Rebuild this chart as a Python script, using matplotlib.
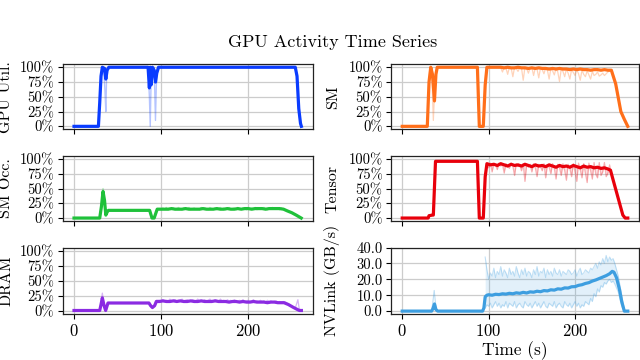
import numpy as np
import matplotlib
matplotlib.use("Agg")
import matplotlib.pyplot as plt
from matplotlib.ticker import FuncFormatter

plt.rcParams['font.family'] = 'serif'
plt.rcParams['font.serif'] = ['cmr10']
plt.rcParams['mathtext.fontset'] = 'cm'
plt.rcParams['axes.formatter.use_mathtext'] = True
plt.rcParams['axes.unicode_minus'] = False

# ---------------- data ----------------
title = "GPU Activity Time Series"
x_ticks = [0, 100, 200]
pct_ticks = [0, 25, 50, 75, 100]
nv_ticks = [0, 10, 20, 30, 40]

# GPU Util
gpu_t = [0, 28, 29.5, 31, 32.5, 35, 36.5, 38, 40, 85, 86.5, 87.5, 88.5, 90, 92, 93.5, 95, 97, 254, 256, 258, 260, 261]
gpu_v = [0, 0, 40, 85, 100, 98, 80, 95, 100, 100, 65, 100, 70, 100, 95, 75, 90, 100, 100, 85, 30, 5, 0]
gpu_raw_t = [0, 28, 30, 32, 34, 35.5, 36.5, 37.5, 39, 41, 85, 86.5, 87.5, 88.5, 90, 92, 93.5, 94.5, 96, 98, 254, 256, 258, 260, 261]
gpu_raw_v = [0, 0, 50, 100, 100, 60, 25, 90, 100, 100, 100, 50, 0, 80, 100, 100, 10, 70, 100, 100, 100, 80, 25, 3, 0]

# SM
sm_head_t = [0, 29, 31, 33, 35, 37.3, 39, 40.5, 87, 89.2, 93.8, 96]
sm_head_v = [0, 0, 75, 100, 88, 43, 88, 100, 100, 0, 0, 70]
sm_mid_v = [100, 100, 100, 100, 100, 99, 100, 99, 99, 100, 99, 99, 98, 99, 98, 99, 98, 98,
            97, 98, 97, 98, 97, 97, 96, 97, 96, 97, 96, 96, 95, 96, 96, 95, 96, 95]
sm_tail_t = [242, 247, 253, 257, 261]
sm_tail_v = [95, 72, 25, 12, 0]
sm_raw_head_t = [0, 29, 30.5, 32, 34, 36, 37.5, 39, 41, 87, 88.5, 89.5, 93.5, 95, 97]
sm_raw_head_v = [0, 0, 60, 100, 100, 10, 60, 95, 100, 100, 30, 0, 0, 50, 100]
sm_raw_mid_v = [100, 100, 100, 99, 100, 100, 100, 100, 99,
                92, 100, 99, 88, 100, 99, 84, 100, 98, 93, 100, 99, 78, 100, 98, 90, 99, 100, 86,
                99, 97, 82, 99, 96, 89, 99, 95, 80, 98, 94, 87, 98, 92, 76, 97, 93, 84, 97, 90,
                80, 96, 91, 86, 96, 89, 78, 95, 88, 84, 94, 87, 80, 93, 86, 88, 92, 85, 87, 90,
                86, 89, 92, 94]
sm_raw_tail_t = [243, 247, 253, 257, 261]
sm_raw_tail_v = [94, 70, 22, 10, 0]

# SM Occupancy
occ_head_t = [0, 29.5, 31.5, 33.3, 35, 36.5, 38, 39.5, 86.8, 89.5, 92, 95.5]
occ_head_v = [0, 0, 20, 45, 30, 5, 10, 13, 13, 0, 0, 15]
occ_mid_v = [15, 15, 15, 16, 15, 15, 15, 16, 15, 15, 15, 15, 16, 15, 15, 15, 16, 15,
             15, 16, 15, 15, 16, 15, 16, 16, 15, 16, 16, 16, 15, 16, 16, 16, 16]
occ_tail_t = [240.5, 245, 250, 255, 260.8]
occ_tail_v = [15, 12, 9, 5, 0]
occ_raw_head_t = [0, 29.5, 31.5, 33.3, 35, 36.5, 38, 39.5, 86.8, 89.5, 92, 95.5]
occ_raw_head_v = [0, 0, 25, 50, 32, 4, 12, 14, 13, 0, 0, 16]
occ_raw_mid_v = [16, 14, 17, 15, 18, 14, 16, 15, 17, 14,
                 16, 18, 15, 14, 17, 16, 15, 18, 14, 16,
                 17, 15, 16, 14, 18, 15, 17, 16, 14, 18,
                 16, 15, 17, 14, 16, 18, 15, 17, 14, 16,
                 18, 15, 16, 17, 14, 18, 16, 15, 17, 16,
                 14, 18, 15, 17, 16, 18, 14, 16, 17, 15,
                 18, 16, 14, 17, 16, 18, 15, 17, 16, 14,
                 17, 15]
occ_raw_tail_t = [243, 247, 252, 256, 260.8]
occ_raw_tail_v = [14, 11, 8, 4, 0]

# Tensor
ten_head_t = [0, 30, 31, 35, 36, 38.5, 87, 89.2, 93.8, 96]
ten_head_v = [0, 0, 4, 5, 5, 96, 96, 0, 0, 70]
ten_mid_v = [92, 90, 91, 89, 92, 90, 88, 91, 89, 90, 88, 91, 89, 87, 90, 88, 89, 87,
             90, 88, 86, 89, 87, 88, 86, 89, 87, 85, 88, 86, 87, 85, 86, 84, 85, 83]
ten_tail_t = [241, 243.4, 255.3, 258, 261]
ten_tail_v = [81, 68, 5, 0, 0]
ten_raw_mid_v = [92, 85, 93, 78, 92, 90, 82, 93, 88, 91, 76, 92, 89, 84, 93, 88, 72, 92,
                 87, 90, 80, 92, 62, 90, 86, 91, 78, 92, 85, 70, 91, 87, 80, 92, 68, 90,
                 86, 75, 92, 84, 66, 91, 85, 72, 92, 80, 64, 91, 84, 70, 92, 78, 62, 93,
                 82, 68, 92, 76, 60, 93, 80, 66, 94, 74, 68, 94, 72, 78, 94, 70, 76, 90]

# DRAM
dram_head_t = [0, 29.5, 31, 32.5, 34.5, 36.3, 38, 39, 86, 88, 90, 92.5, 94.5]
dram_head_v = [0, 0, 10, 21, 8, 0, 8, 12.5, 12.5, 8, 5, 8, 15]
dram_mid_v = [15, 16, 15, 15, 16, 15, 16, 15, 15, 16, 15, 15, 16, 15, 15, 15, 16, 15,
              15, 15, 14, 15, 15, 14, 15, 14, 14, 15, 14, 14, 14, 13, 14, 14, 13, 13]
dram_tail_t = [241, 246, 252, 256, 258.8, 261]
dram_tail_v = [13, 10, 5, 2, 0, 0]
dram_raw_head_t = [0, 29.5, 31, 32.5, 34.5, 36.3, 38, 39, 86, 88, 90, 92.5, 94.5]
dram_raw_head_v = [0, 0, 14, 29, 10, 0, 9, 13, 13, 7, 3, 9, 17]
dram_raw_mid_v = [17, 15, 18, 16, 17, 15, 19, 16, 17, 18,
                  15, 17, 16, 19, 15, 17, 18, 16, 15, 18,
                  17, 16, 19, 15, 17, 16, 18, 15, 17, 19,
                  16, 15, 18, 17, 15, 19, 16, 17, 15, 18,
                  16, 17, 15, 18, 16, 15, 17, 16, 18, 15,
                  16, 17, 15, 16, 18, 15, 16, 15, 17, 15,
                  16, 14, 17, 15, 16, 14, 15, 16, 14, 15,
                  14, 15]
dram_raw_tail_t = [243, 248, 254, 257, 258.5, 261]
dram_raw_tail_v = [14, 9, 4, 18, 3, 0]

# NVLink (GB/s)
nv_head_t = [0, 34, 35.5, 37.3, 39, 41, 93, 94.5, 96, 98]
nv_head_v = [0, 0, 1.5, 4.5, 1, 0, 0, 2, 9, 10]
nv_mid_v = [10.3, 10.0, 10.6, 10.4, 10.9, 10.7, 11.2, 10.9, 11.5, 11.2, 11.8, 11.4,
            12.1, 11.9, 12.5, 12.2, 12.9, 12.7, 13.4, 13.2, 14.0, 13.8, 14.6, 14.5,
            15.3, 15.4, 16.2, 16.6, 17.4, 17.9, 18.9, 19.6, 20.5, 21.4, 22.3]
nv_tail_t = [240, 243, 245, 248, 251.4, 254, 257, 261]
nv_tail_v = [23.5, 25.0, 24.5, 21, 13.6, 6, 0, 0]
nv_spike_t = [34, 35.5, 37, 38.5, 40]
nv_spike_v = [0, 6, 13, 5, 0]
nv_up_v = [34, 26, 20, 24, 22, 27, 21, 25, 23, 28,
           22, 26, 24, 21, 27, 23, 25, 22, 28, 24,
           21, 26, 23, 27, 22, 25, 24, 21, 26, 23,
           28, 22, 25, 24, 27, 21, 26, 23, 25, 22,
           27, 24, 23, 26, 22, 25, 24, 23, 26, 25,
           23, 24, 26, 22, 25, 27, 23, 24, 26, 25,
           24, 27, 26, 28, 30, 27, 31, 29, 33, 30,
           35, 31, 34, 32, 33, 30]
nv_lo_v = [2, 4, 3, 5, 2, 4, 6, 3, 5, 2,
           4, 3, 6, 2, 5, 4, 3, 6, 2, 4,
           5, 3, 2, 6, 4, 3, 5, 2, 4, 6,
           3, 5, 2, 4, 6, 3, 2, 5, 4, 3,
           6, 2, 4, 5, 3, 2, 6, 4, 3, 5,
           2, 4, 6, 3, 5, 2, 4, 3, 6, 5,
           4, 8, 6, 11, 9, 14, 12, 16, 15, 18,
           17, 19, 20, 18, 19, 17]
nv_band_tail_t = [250, 254, 257]
nv_band_up_tail = [22, 10, 1]
nv_band_lo_tail = [12, 3, 0]

# ---------------- assemble ----------------
grid4_a = np.arange(98, 240, 4)     # 98..238
grid4_b = np.arange(100, 240, 4)    # 100..236
grid2 = np.arange(98, 242, 2)       # 98..240
grid2_nv = np.arange(96, 248, 2)    # 96..246

def cat(*parts):
    return np.concatenate([np.asarray(p, dtype=float) for p in parts])

sm_t = cat(sm_head_t, grid4_a, sm_tail_t); sm_v = cat(sm_head_v, sm_mid_v, sm_tail_v)
sm_rt = cat(sm_raw_head_t, grid2, sm_raw_tail_t); sm_rv = cat(sm_raw_head_v, sm_raw_mid_v, sm_raw_tail_v)
occ_t = cat(occ_head_t, grid4_b, occ_tail_t); occ_v = cat(occ_head_v, occ_mid_v, occ_tail_v)
occ_rt = cat(occ_raw_head_t, grid2, occ_raw_tail_t); occ_rv = cat(occ_raw_head_v, occ_raw_mid_v, occ_raw_tail_v)
ten_t = cat(ten_head_t, grid4_a, ten_tail_t); ten_v = cat(ten_head_v, ten_mid_v, ten_tail_v)
ten_rt = cat(ten_head_t, grid2, ten_tail_t); ten_rv = cat(ten_head_v, ten_raw_mid_v, ten_tail_v)
dram_t = cat(dram_head_t, grid4_a, dram_tail_t); dram_v = cat(dram_head_v, dram_mid_v, dram_tail_v)
dram_rt = cat(dram_raw_head_t, grid2, dram_raw_tail_t); dram_rv = cat(dram_raw_head_v, dram_raw_mid_v, dram_raw_tail_v)
nv_t = cat(nv_head_t, grid4_b, nv_tail_t); nv_v = cat(nv_head_v, nv_mid_v, nv_tail_v)
nv_bt = cat(grid2_nv, nv_band_tail_t)
nv_bu = cat(nv_up_v, nv_band_up_tail)
nv_bl = cat(nv_lo_v, nv_band_lo_tail)

C_GPU = '#0a3cff'
C_SM = '#ff6f1a'
C_OCC = '#1fc13a'
C_TEN = '#e8000b'
C_DRAM = '#8b2be2'
C_NV = '#3d9ee0'

# ---------------- figure ----------------
fig = plt.figure(figsize=(6.4, 3.6), dpi=100)
W = 640.0; H = 360.0
def box(x0, x1, y0, y1):
    return [x0 / W, 1 - y1 / H, (x1 - x0) / W, (y1 - y0) / H]

rows = [(64.3, 129.3), (156, 221), (247.5, 313.5)]
cols = [(62.7, 312.7), (391, 639)]
axes = [[fig.add_axes(box(c[0], c[1], r[0], r[1])) for c in cols] for r in rows]

pct_fmt = FuncFormatter(lambda v, p: f"{v:.0f}%")
nv_fmt = FuncFormatter(lambda v, p: f"{v:.1f}")

def style(ax, ylabel, pct=True, xlabels=False, col=0):
    ax.set_xlim(-13, 274)
    ax.set_xticks(x_ticks)
    if pct:
        ax.set_ylim(-5, 105)
        ax.set_yticks(pct_ticks)
        ax.yaxis.set_major_formatter(pct_fmt)
    else:
        ax.set_ylim(-1.5, 40)
        ax.set_yticks(nv_ticks)
        ax.yaxis.set_major_formatter(nv_fmt)
    ax.grid(True, color='#cccccc', lw=0.9)
    ax.set_axisbelow(True)
    for s in ax.spines.values():
        s.set_color('#222222'); s.set_linewidth(0.9)
    ax.tick_params(axis='y', labelsize=10.5, length=3.5, width=0.8, pad=2.5)
    ax.tick_params(axis='x', labelsize=12, length=3.5, width=0.8, pad=3)
    if not xlabels:
        ax.tick_params(axis='x', labelbottom=False)
    ax.set_ylabel(ylabel, fontsize=11.5)
    ax.yaxis.set_label_coords(-0.197 if col == 0 else -0.207, 0.5)

# GPU Util
ax = axes[0][0]
ax.plot(gpu_raw_t, gpu_raw_v, color=C_GPU, lw=1.0, alpha=0.3)
ax.plot(gpu_t, gpu_v, color=C_GPU, lw=2.3)
style(ax, 'GPU Util.', col=0)

# SM
ax = axes[0][1]
ax.plot(sm_rt, sm_rv, color=C_SM, lw=0.9, alpha=0.3)
ax.plot(sm_t, sm_v, color=C_SM, lw=2.3)
style(ax, 'SM', col=1)

# SM Occ
ax = axes[1][0]
ax.plot(occ_rt, occ_rv, color=C_OCC, lw=0.9, alpha=0.35)
ax.plot(occ_t, occ_v, color=C_OCC, lw=2.3)
style(ax, 'SM Occ.', col=0)

# Tensor
ax = axes[1][1]
ax.fill_between(ten_rt, ten_rv, np.interp(ten_rt, ten_t, ten_v), color=C_TEN, alpha=0.12, lw=0)
ax.plot(ten_rt, ten_rv, color=C_TEN, lw=0.9, alpha=0.3)
ax.plot(ten_t, ten_v, color=C_TEN, lw=2.3)
style(ax, 'Tensor', col=1)

# DRAM
ax = axes[2][0]
ax.plot(dram_rt, dram_rv, color=C_DRAM, lw=0.9, alpha=0.35)
ax.plot(dram_t, dram_v, color=C_DRAM, lw=2.3)
style(ax, 'DRAM', xlabels=True, col=0)

# NVLink
ax = axes[2][1]
ax.fill_between(nv_bt, nv_bl, nv_bu, color=C_NV, alpha=0.15, lw=0)
ax.plot(nv_bt, nv_bu, color=C_NV, lw=0.8, alpha=0.3)
ax.plot(nv_bt, nv_bl, color=C_NV, lw=0.8, alpha=0.3)
ax.plot(nv_spike_t, nv_spike_v, color=C_NV, lw=0.8, alpha=0.35)
ax.plot(nv_t, nv_v, color=C_NV, lw=2.3)
style(ax, 'NVLink (GB/s)', pct=False, xlabels=True, col=1)
ax.set_xlabel('Time (s)', fontsize=12.5, labelpad=2)

fig.text(0.52, 0.883, title, ha='center', va='center', fontsize=13)

fig.savefig('out.png', dpi=100)
